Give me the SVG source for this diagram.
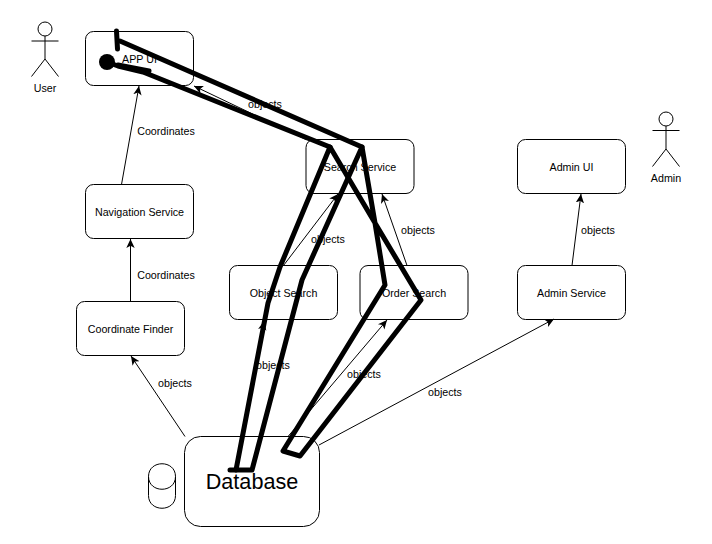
<svg xmlns="http://www.w3.org/2000/svg" width="712" height="544" viewBox="0 0 712 544">
<style>
text{font-family:"Liberation Sans",Arial,sans-serif;font-size:10.7px;fill:#000;text-anchor:middle}
.n{fill:#fff;stroke:#000;stroke-width:1}
.a{fill:#fff;stroke:#000;stroke-width:1}
.c{fill:none;stroke:#000;stroke-width:1;marker-end:url(#m)}
.s{fill:none;stroke:#000;stroke-width:5;stroke-linejoin:round;stroke-linecap:round}
</style>
<defs>
<marker id="m" markerUnits="userSpaceOnUse" markerWidth="10" markerHeight="10" refX="9" refY="5" orient="auto"><path d="M0 0.800L9 5L0 9.200L2.300 5Z" fill="#000"/></marker>
</defs>
<rect width="712" height="544" fill="#fff"/>
<g id="user"><circle cx="45" cy="29" r="7" class="a"/><path d="M45 36V59M31.500 41H58.500M45 59L31.500 76.500M45 59L58.500 76.500" class="a" style="fill:none"/><text x="45" y="92">User</text></g>
<g id="admin"><circle cx="666" cy="119" r="7" class="a"/><path d="M666 126V149M652.500 130.500H679.500M666 149L652.500 166.500M666 149L679.500 166.500" class="a" style="fill:none"/><text x="666" y="182">Admin</text></g>
<g id="app-ui"><rect x="85.500" y="31.500" width="108" height="54" rx="8" class="n"/><text x="139.500" y="63">APP UI</text></g>
<g id="navigation-service"><rect x="85.500" y="184.500" width="108" height="54" rx="8" class="n"/><text x="139.500" y="216">Navigation Service</text></g>
<g id="coordinate-finder"><rect x="76.500" y="301.500" width="108" height="54" rx="8" class="n"/><text x="130.500" y="333">Coordinate Finder</text></g>
<g id="search-service"><rect x="306" y="139.500" width="108" height="54" rx="8" class="n"/><text x="360" y="171">Search Service</text></g>
<g id="object-search"><rect x="229.500" y="265.500" width="108" height="54" rx="8" class="n"/><text x="283.500" y="297">Object Search</text></g>
<g id="order-search"><rect x="360" y="265.500" width="108" height="54" rx="8" class="n"/><text x="414" y="297">Order Search</text></g>
<g id="admin-ui"><rect x="517.500" y="139.500" width="108" height="54" rx="8" class="n"/><text x="571.500" y="171">Admin UI</text></g>
<g id="admin-service"><rect x="517.500" y="265.500" width="108" height="54" rx="8" class="n"/><text x="571.500" y="297">Admin Service</text></g>
<g id="database"><rect x="184.500" y="436.500" width="135" height="90" rx="16" class="n"/><text x="252" y="488.500" style="font-size:21.600px">Database</text></g>
<g id="cylinder"><path d="M148.500 476.500C148.500 459.500 175.500 459.500 175.500 476.500V495.500C175.500 512.500 148.500 512.500 148.500 495.500Z" class="n"/><path d="M148.500 476.500C148.500 493.500 175.500 493.500 175.500 476.500" class="n" style="fill:none"/></g>
<g id="connectors">
<path class="c" d="M121.500 184.500L139 86"/>
<path class="c" d="M130.500 301.500V239"/>
<path class="c" d="M185 436.500L131 356"/>
<path class="c" d="M283.500 265.500L338 194"/>
<path class="c" d="M407 265.500L382 194"/>
<path class="c" d="M306 139.500L194 86"/>
<path class="c" d="M572 265.500L581 194"/>
<path class="c" d="M319 445L554 319"/>
<path class="c" d="M288 436.500L387 320"/>
<path class="c" d="M241 436.500L264 321"/>
</g>
<g id="labels">
<text x="265" y="108">objects</text><text x="166" y="135">Coordinates</text><text x="166" y="279">Coordinates</text>
<text x="175" y="387">objects</text><text x="328" y="243">objects</text><text x="418" y="234">objects</text>
<text x="598" y="234">objects</text><text x="273" y="369">objects</text><text x="364" y="378">objects</text><text x="445" y="396">objects</text>
</g>
<g id="scribble">
<path class="s" d="M116.500 31L117.500 49"/>
<path class="s" d="M120 41L362 147L302 280L252 470L230 470"/>
<path class="s" d="M236 470L268 303L280 267L330 147L375 223L421 300L300 456L283 451L385 285L375 223L362 147"/>
<path class="s" d="M330 147L143 72L118 66L107 62"/>
<path class="s" d="M118 65L149 71"/>
<circle cx="107" cy="62" r="8" fill="#000"/>
</g>
</svg>
